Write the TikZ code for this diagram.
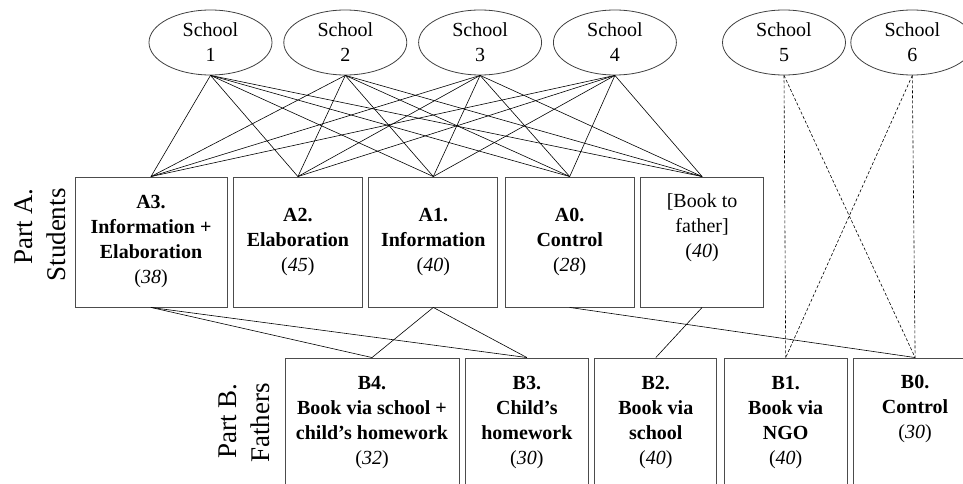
\documentclass[tikz,border=0pt]{standalone}
\usepackage{fontspec}
\setmainfont{Liberation Serif}
\usetikzlibrary{positioning, shapes.geometric}
\tikzset{
  school/.style={ellipse, draw=black!75, line width=0.8, minimum width=123, minimum height=65, inner sep=0, align=center},
  treat/.style={rectangle, draw=black!70, line width=0.9, minimum height=130, inner sep=0, align=center},
  link/.style={draw, line width=0.6},
  dlink/.style={draw, line width=0.6, dash pattern=on 3 off 2},
  part/.style={rotate=90, align=right, inner sep=0, font=\fontsize{27}{33}\selectfont},
  every node/.style={font=\fontsize{20}{25}\selectfont}
}

\begin{document}
\begin{tikzpicture}[x=1pt, y=-1pt]
    \useasboundingbox (0,0) rectangle (963,484);
    \clip (0,0) rectangle (963,484);
    % schools
    \node[school] (s1) at (210.5,42.5) {School\\1};
    \node[school, right=11pt of s1] (s2) {School\\2};
    \node[school, right=11pt of s2] (s3) {School\\3};
    \node[school, right=11pt of s3] (s4) {School\\4};
    \node[school] (s5) at (784,42.5) {School\\5};
    \node[school, right=4.5pt of s5] (s6) {School\\6};
    % part A
    \node[part] (parta) at (40,235) {Part A.\\Students};
    \node[treat, minimum width=152] (a3) at (151,242) {\textbf{A3.}\\\textbf{Information +}\\\textbf{Elaboration}\\(\textit{38})};
    \node[treat, minimum width=129, right=5.5pt of a3] (a2) {\textbf{A2.}\\\textbf{Elaboration}\\(\textit{45})};
    \node[treat, minimum width=129, right=5.5pt of a2] (a1) {\textbf{A1.}\\\textbf{Information}\\(\textit{40})};
    \node[treat, minimum width=129, right=6.5pt of a1] (a0) {\textbf{A0.}\\\textbf{Control}\\(\textit{28})};
    \node[treat, minimum width=123, right=5.5pt of a0] (book) {[Book to\\father]\\(\textit{40})\\\strut};
    % part B
    \node[part] (partb) at (244,423) {Part B.\\Fathers};
    \node[treat, minimum width=174] (b4) at (372,423) {\textbf{B4.}\\\textbf{Book via school +}\\\textbf{child's homework}\\(\textit{32})};
    \node[treat, minimum width=123, right=5.5pt of b4] (b3) {\textbf{B3.}\\\textbf{Child's}\\\textbf{homework}\\(\textit{30})};
    \node[treat, minimum width=122, right=5.5pt of b3] (b2) {\textbf{B2.}\\\textbf{Book via}\\\textbf{school}\\(\textit{40})};
    \node[treat, minimum width=123, right=6.5pt of b2] (b1) {\textbf{B1.}\\\textbf{Book via}\\\textbf{NGO}\\(\textit{40})};
    \node[treat, minimum width=123, right=5.5pt of b1] (b0) {\textbf{B0.}\\\textbf{Control}\\(\textit{30})\\\strut};
    % schools to part A
    \foreach \s in {1,...,4}
      \foreach \a in {a3,a2,a1,a0,book}
        \draw[link] (s\s.south) -- (\a.north);
    \draw[dlink] (s5.south) -- (b1.north);
    \draw[dlink] (s5.south) -- (b0.north);
    \draw[dlink] (s6.south) -- (b0.north);
    \draw[dlink] (s6.south) -- (b1.north);
    % part A to part B
    \draw[link] (a3.south) -- (b4.north);
    \draw[link] (a3.south) -- (b3.north);
    \draw[link] (a1.south) -- (b4.north);
    \draw[link] (a1.south) -- (b3.north);
    \draw[link] (book.south) -- (b2.north);
    \draw[link] (a0.south) -- (b0.north);
\end{tikzpicture}
\end{document}
